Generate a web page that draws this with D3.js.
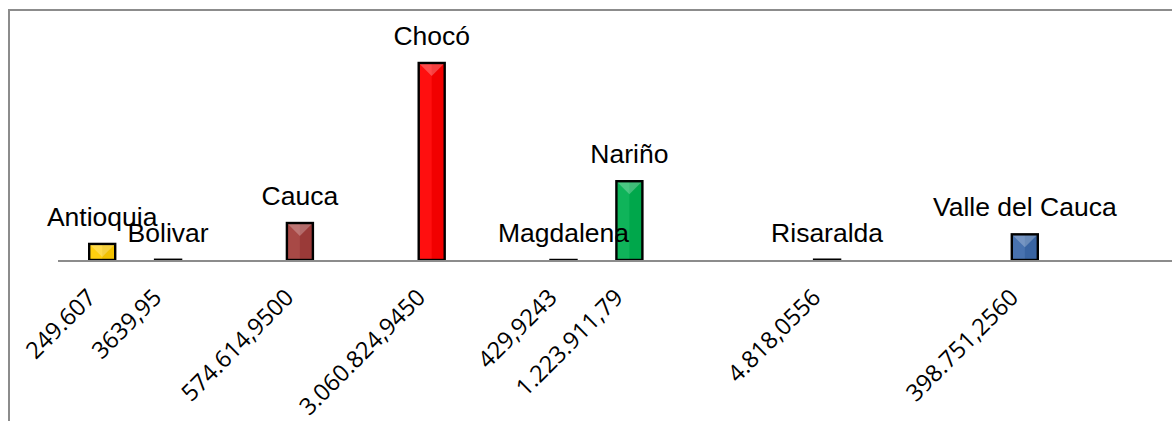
<!DOCTYPE html>
<html>
<head>
<meta charset="utf-8">
<script src="https://cdn.jsdelivr.net/npm/d3@7/dist/d3.min.js"></script>
<style>
  html, body { margin: 0; padding: 0; background: #fff; }
  svg { display: block; }
</style>
</head>
<body>
<svg id="chart" width="1172" height="421"></svg>
<script>
// Spreadsheet rows (blank rows kept so the bars keep their spacing)
const categories = ["Antioquia", "Bolivar", "", "Cauca", "", "Chocó", "", "Magdalena",
                    "Nariño", "", "", "Risaralda", "", "", "Valle del Cauca", ""];
const values = [249607, 3639.95, null, 574614.95, null, 3060824.945, null, 429.9243,
                1223911.79, null, null, 4818.0556, null, null, 398751.256, null];
const valueLabels = ["249.607", "3639,95", "", "574.614,9500", "", "3.060.824,9450", "", "429,9243",
                     "1.223.911,79", "", "", "4.818,0556", "", "", "398.751,2560", ""];
const fillColors = ["#FFCC00", "#7F7F7F", null, "#A33E3B", null, "#FF0000", null, "#7F7F7F",
                    "#00B050", null, null, "#7F7F7F", null, null, "#3D6AAB", null];
const yDomain = [0, 3500000];

const W = 1172, H = 421;
const svg = d3.select("#chart");

svg.append("rect").attr("width", W).attr("height", H).attr("fill", "#fff");

// outer chart frame (runs off the right and bottom edges)
svg.append("rect")
  .attr("x", 9).attr("y", 10)
  .attr("width", W + 20).attr("height", H + 20)
  .attr("fill", "none").attr("stroke", "#8c8c8c").attr("stroke-width", 2);

const idx = categories.map((d, i) => i);
const step = 65.9;
const x = d3.scaleBand()
  .domain(idx)
  .range([69.25, 69.25 + step * idx.length])
  .paddingInner(0.6055)
  .paddingOuter(0.6055 / 2);

const y = d3.scaleLinear().domain(yDomain).range([260, 34.7]);

const rows = idx.filter(i => values[i] != null).map(i => ({
  i, name: categories[i], v: values[i], label: valueLabels[i], color: fillColors[i]
}));

const bw = x.bandwidth();

const bars = svg.append("g").selectAll("g.bar").data(rows).join("g").attr("class", "bar");

// base fill
bars.append("rect")
  .attr("x", d => x(d.i)).attr("y", d => y(d.v))
  .attr("width", bw).attr("height", d => y(0) - y(d.v))
  .attr("fill", d => d.color);

// bevel: slightly lighter left half, darker right half
bars.append("rect")
  .attr("x", d => x(d.i)).attr("y", d => y(d.v))
  .attr("width", bw / 2).attr("height", d => y(0) - y(d.v))
  .attr("fill", "#fff").attr("opacity", 0.06);
bars.append("rect")
  .attr("x", d => x(d.i) + bw / 2).attr("y", d => y(d.v))
  .attr("width", bw / 2).attr("height", d => y(0) - y(d.v))
  .attr("fill", "#000").attr("opacity", 0.05);

// bevel: lighter top facet
bars.append("polygon")
  .attr("points", d => {
    const x0 = x(d.i), x1 = x0 + bw, t = y(d.v);
    const depth = Math.min(bw / 2, y(0) - t);
    return [[x0, t], [x1, t], [x0 + bw / 2, t + depth]].map(p => p.join(",")).join(" ");
  })
  .attr("fill", "#fff").attr("opacity", 0.25);

// outline
bars.append("rect")
  .attr("x", d => x(d.i)).attr("y", d => y(d.v))
  .attr("width", bw).attr("height", d => y(0) - y(d.v))
  .attr("fill", "none").attr("stroke", "#000").attr("stroke-width", 2.4);

// category axis line
svg.append("line")
  .attr("x1", 58).attr("x2", W)
  .attr("y1", y(0) + 1).attr("y2", y(0) + 1)
  .attr("stroke", "#8c8c8c").attr("stroke-width", 2);

// category name above each bar (drawn over all bars)
svg.append("g").selectAll("text").data(rows).join("text")
  .attr("x", d => x(d.i) + bw / 2)
  .attr("y", d => y(d.v) - 18)
  .attr("text-anchor", "middle")
  .attr("font-family", "'Liberation Sans', Arial, sans-serif")
  .attr("font-size", 26.5)
  .attr("fill", "#000")
  .text(d => d.name);

// rotated value labels under the axis
svg.append("g").selectAll("text").data(rows).join("text")
  .attr("transform", d => `translate(${x(d.i) + bw / 2 - 5},${y(0) + 39}) rotate(-45)`)
  .attr("text-anchor", "end")
  .attr("font-family", "'Open Sans', sans-serif")
  .attr("font-size", 23.5)
  .attr("fill", "#000")
  .text(d => d.label);
</script>
</body>
</html>
